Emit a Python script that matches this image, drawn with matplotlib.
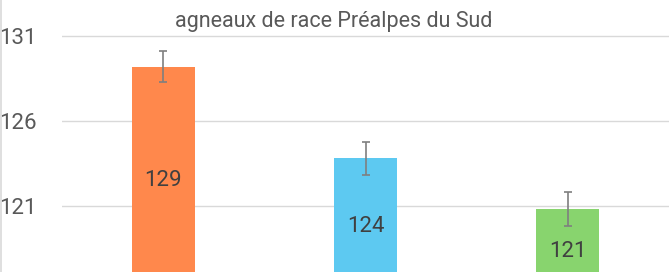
import matplotlib
matplotlib.use("Agg")
import matplotlib.pyplot as plt
from matplotlib.lines import Line2D

categories = ["A", "B", "C"]
values = [129.2, 123.8, 120.8]
errors = [0.92, 0.96, 1.0]
labels = ["129", "124", "121"]
colors = ["#FF884C", "#5DC9F1", "#88D46E"]
yticks = [121, 126, 131]
baseline = 115.8

plt.rcParams['font.family'] = ['Roboto', 'DejaVu Sans']

W, H = 669, 272
fig = plt.figure(figsize=(W / 100, H / 100), dpi=100)
ax = fig.add_axes([62 / W, 0, 1 - 62 / W, 1])

x = list(range(len(categories)))
heights = [v - baseline for v in values]
ax.bar(x, heights, bottom=baseline, width=0.311, color=colors, zorder=2)
ax.errorbar(x, values, yerr=errors, fmt='none', ecolor='#7F7F7F',
            elinewidth=1.2, capsize=2.7, capthick=1.2, zorder=3)
for xi, v, lab in zip(x, values, labels):
    ax.text(xi, (v + baseline) / 2, lab, ha='center', va='center',
            fontsize=16, color='#404040', zorder=4)

ax.set_xlim(-0.5, 2.5)
ax.set_ylim(121 - 66 / 17, 131 + 36 / 17)
ax.set_yticks(yticks)
ax.set_yticklabels([str(t) for t in yticks])
ax.set_xticks([])
ax.tick_params(axis='y', length=0, pad=18, labelsize=16, labelcolor='#595959')
ax.yaxis.grid(True, color='#D9D9D9', linewidth=1.0, zorder=0)
ax.set_axisbelow(True)
for s in ax.spines.values():
    s.set_visible(False)

fig.text(334 / W, 1 - 27 / H, "agneaux de race Préalpes du Sud",
         ha='center', va='baseline', fontsize=15.5, color='#595959')

fig.add_artist(Line2D([0.7 / W, 0.7 / W], [0, 1], transform=fig.transFigure,
                      color='#D9D9D9', linewidth=1.2))

fig.savefig("out.png", dpi=100)
